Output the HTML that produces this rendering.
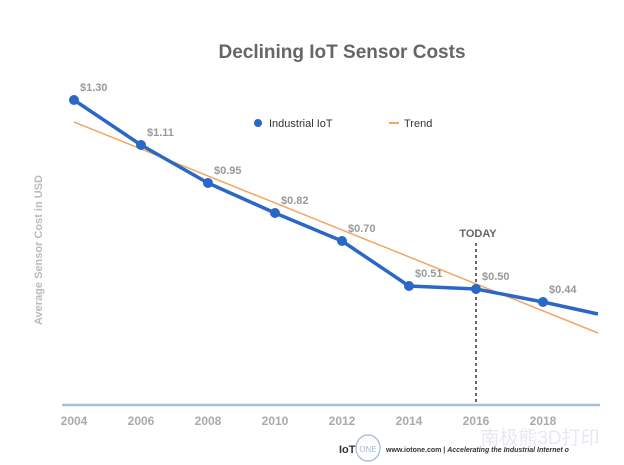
<!DOCTYPE html>
<html><head><style>body{margin:0;background:#fff}svg{display:block}</style></head><body>
<svg width="624" height="465" xmlns="http://www.w3.org/2000/svg" font-family="Liberation Sans, Arial, sans-serif">
<rect width="624" height="465" fill="#fff"/>
<text x="342" y="58" text-anchor="middle" font-size="19" font-weight="bold" fill="#666">Declining IoT Sensor Costs</text>
<circle cx="258" cy="123" r="4" fill="#2a67c7"/>
<text x="269" y="127" font-size="11" fill="#333">Industrial IoT</text>
<line x1="389" y1="123" x2="399" y2="123" stroke="#f0a860" stroke-width="2"/>
<text x="404" y="127" font-size="11" fill="#333">Trend</text>
<text x="42" y="250" font-size="11" font-weight="bold" fill="#bbb" text-anchor="middle" transform="rotate(-90 42 250)">Average Sensor Cost in USD</text>
<line x1="62" y1="405" x2="600" y2="405" stroke="#a7bfdc" stroke-width="2.5"/>
<line x1="476" y1="243" x2="476" y2="405" stroke="#333" stroke-width="1.5" stroke-dasharray="3,3"/>
<text x="478" y="237" font-size="11" font-weight="bold" fill="#666" text-anchor="middle">TODAY</text>
<line x1="74" y1="122" x2="598" y2="333" stroke="#f0a860" stroke-width="1.5"/>
<polyline points="74,100 141,145 208,183 275,213 342,241 409,286 476,289 543,302 598,314" fill="none" stroke="#2a67c7" stroke-width="3.5" stroke-linejoin="round"/>
<g fill="#2a67c7">
<circle cx="74" cy="100" r="5"/><circle cx="141" cy="145" r="5"/><circle cx="208" cy="183" r="5"/><circle cx="275" cy="213" r="5"/><circle cx="342" cy="241" r="5"/><circle cx="409" cy="286" r="5"/><circle cx="476" cy="289" r="5"/><circle cx="543" cy="302" r="5"/>
</g>
<g font-size="11" fill="#999" font-weight="bold">
<text x="80" y="91">$1.30</text><text x="147" y="136">$1.11</text><text x="214" y="174">$0.95</text><text x="281" y="204">$0.82</text><text x="348" y="232">$0.70</text><text x="415" y="277">$0.51</text><text x="482" y="280">$0.50</text><text x="549" y="293">$0.44</text>
</g>
<g font-size="12" fill="#aaa" font-weight="bold" text-anchor="middle">
<text x="74" y="425">2004</text><text x="141" y="425">2006</text><text x="208" y="425">2008</text><text x="275" y="425">2010</text><text x="342" y="425">2012</text><text x="409" y="425">2014</text><text x="476" y="425">2016</text><text x="543" y="425">2018</text>
</g>
<text x="339" y="453" font-size="11" font-weight="bold" fill="#333">IoT</text>
<ellipse cx="368" cy="448" rx="12" ry="13" fill="none" stroke="#9bb9de" stroke-width="1.2"/>
<text x="368" y="452" font-size="8" fill="#9bb9de" text-anchor="middle">ONE</text>
<text x="386" y="452" font-size="7" font-weight="bold" fill="#333">www.iotone.com  |  <tspan font-style="italic">Accelerating the Industrial Internet o</tspan></text>
<text x="540" y="444" font-size="19" fill="#e8e8f0" text-anchor="middle" font-family="Liberation Sans, Noto Sans CJK SC, sans-serif">南极熊3D打印</text>
</svg>
</body></html>
